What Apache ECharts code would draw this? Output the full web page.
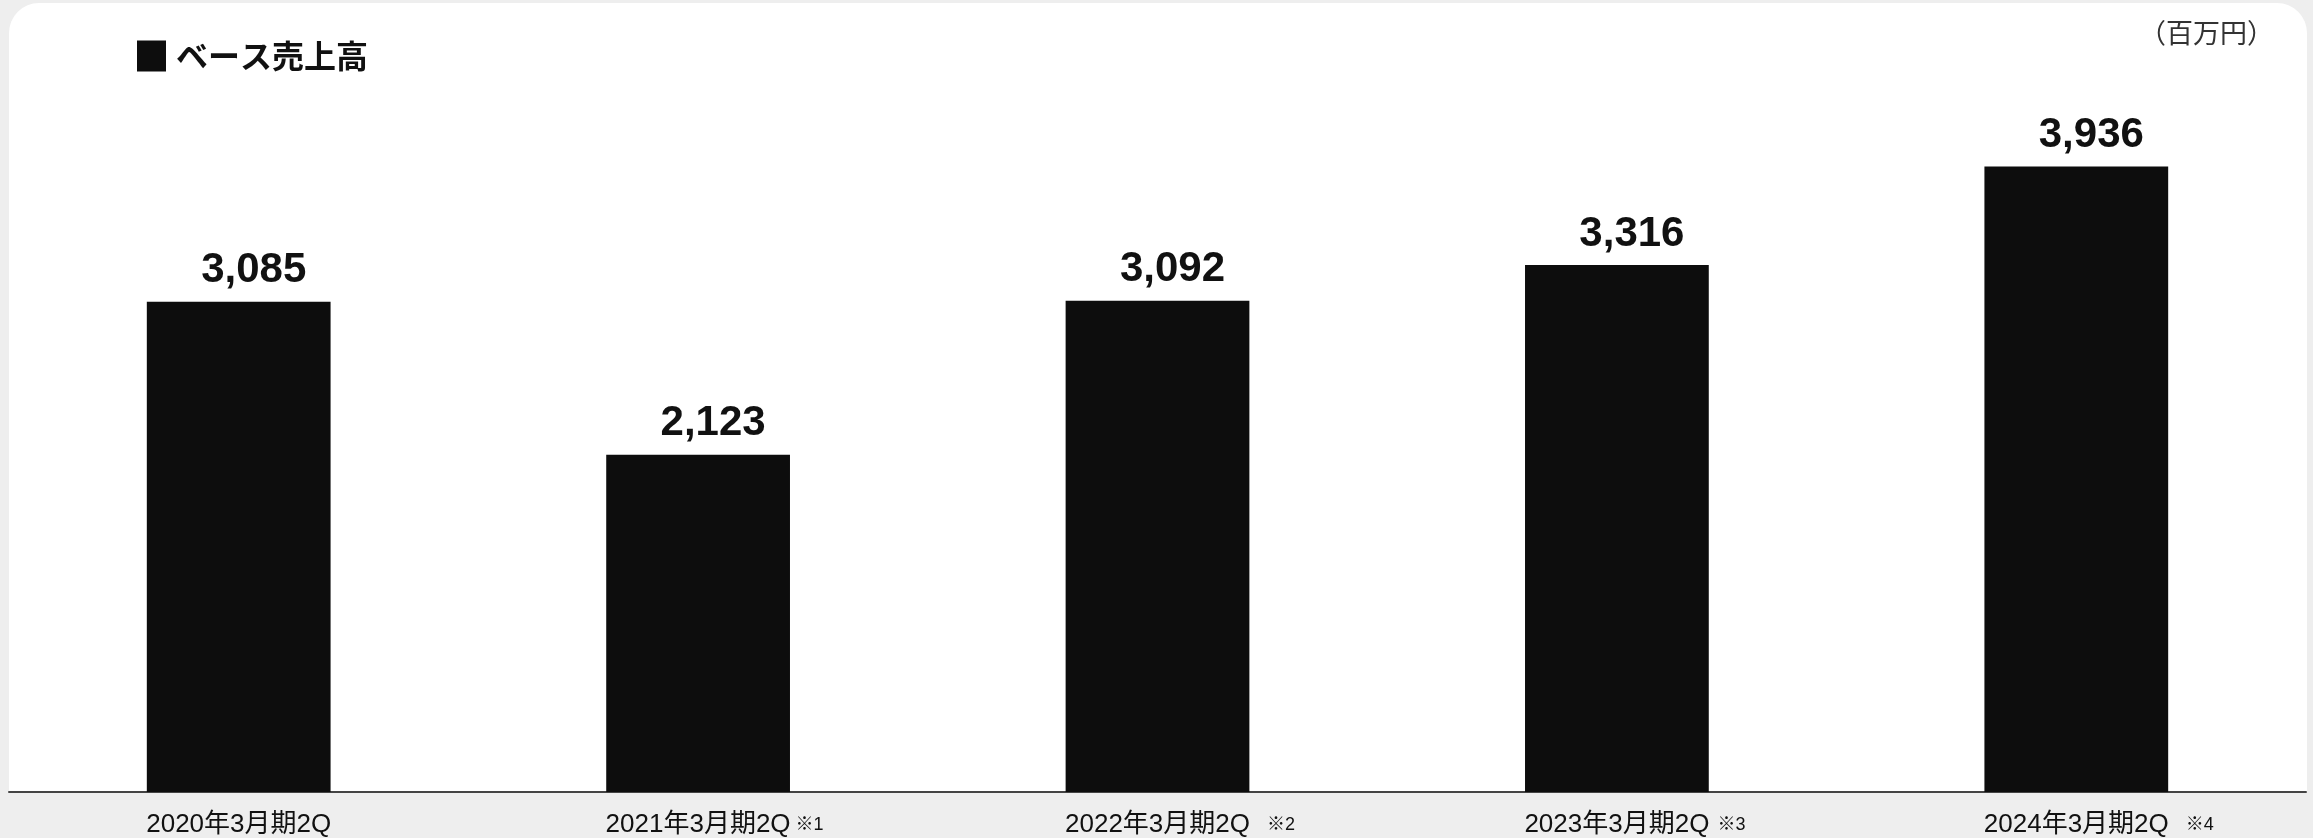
<!DOCTYPE html>
<html>
<head>
<meta charset="utf-8">
<script src="https://cdn.jsdelivr.net/npm/echarts@6/dist/echarts.min.js"></script>
<style>
html, body { margin: 0; padding: 0; background: #eeeeee; }
#bar { width: 2313px; height: 838px; }
</style>
</head>
<body>
<div id="bar"></div>
<script>
var categories = ['2020年3月期2Q', '2021年3月期2Q', '2022年3月期2Q', '2023年3月期2Q', '2024年3月期2Q'];
var notes = ['', '※1', '※2', '※3', '※4'];
var values = [3085, 2123, 3092, 3316, 3936];
var seriesName = 'ベース売上高';
var unitText = '（百万円）';

// space between the period label and its footnote mark
var noteGaps = [0, 5, 17, 8, 17];
var noteWidth = 28;

function buildRich() {
	var rich = {
		note: { fontSize: 18, color: '#111', width: noteWidth, align: 'left' }
	};
	noteGaps.forEach(function (g, i) {
		rich['pad' + i] = { width: notes[i] ? g + noteWidth : 0 };
		rich['gap' + i] = { width: g };
	});
	return rich;
}

var barChart = echarts.init(document.getElementById('bar'));
var option = {
	backgroundColor: '#eeeeee',
	graphic: [{
		type: 'rect',
		z: -10,
		shape: { x: 9, y: 3, width: 2298, height: 789, r: [30, 30, 0, 0] },
		style: { fill: '#ffffff' },
		silent: true
	}],
	title: {
		text: unitText,
		right: 34,
		top: 14,
		textStyle: {
			fontSize: 27,
			fontWeight: 'normal',
			color: '#333',
			fontFamily: 'Noto Sans CJK JP'
		}
	},
	legend: {
		data: [seriesName],
		left: 132,
		top: 35,
		icon: 'rect',
		itemWidth: 29,
		itemHeight: 31,
		selectedMode: false,
		textStyle: {
			fontSize: 32,
			fontWeight: 'bold',
			color: '#111',
			fontFamily: 'Noto Sans CJK JP',
			padding: [0, 0, 0, 5]
		}
	},
	grid: {
		left: 9,
		right: 7,
		top: 77,
		bottom: 46
	},
	xAxis: {
		type: 'category',
		data: categories,
		axisTick: { show: false },
		axisLine: { lineStyle: { color: '#444', width: 2 } },
		axisLabel: {
			interval: 0,
			margin: 20,
			fontSize: 26,
			color: '#111',
			fontFamily: 'Liberation Sans, Noto Sans CJK JP',
			formatter: function (value, index) {
				if (!notes[index]) {
					return value;
				}
				return '{pad' + index + '|}' + value + '{gap' + index + '|}{note|' + notes[index] + '}';
			},
			rich: buildRich()
		}
	},
	yAxis: {
		type: 'value',
		show: false,
		min: 0,
		max: 4500,
		splitLine: { show: false }
	},
	series: [{
		name: seriesName,
		type: 'bar',
		silent: true,
		barWidth: '40%',
		itemStyle: { color: '#0d0d0d' },
		label: {
			show: true,
			position: 'top',
			distance: 10,
			offset: [15, 0],
			fontSize: 42,
			fontWeight: 'bold',
			color: '#111',
			fontFamily: 'Liberation Sans',
			formatter: function (p) {
				return p.value.toLocaleString('en-US');
			}
		},
		data: values
	}]
};
barChart.setOption(option);
</script>
</body>
</html>
